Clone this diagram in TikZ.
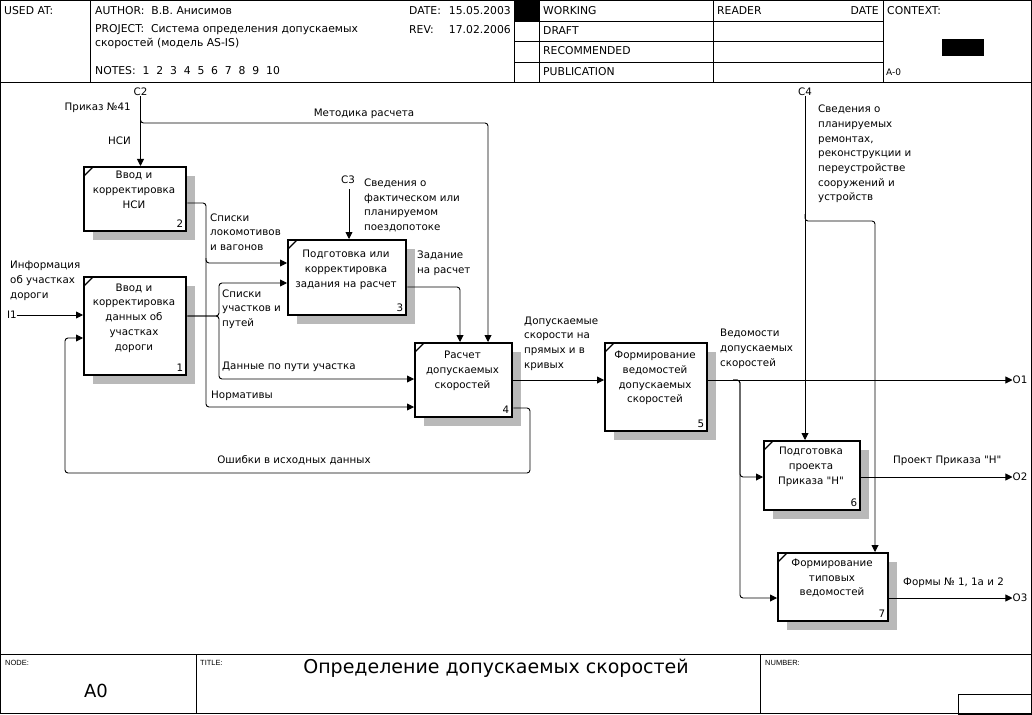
\documentclass[tikz,border=0pt]{standalone}
\usepackage{fontspec}
\setmainfont{DejaVu Sans}[Ligatures=TeXOff]
\newfontfamily\lib{Liberation Sans}
\usetikzlibrary{arrows.meta}
\tikzset{
  frm/.style={line width=0.8pt},
  box/.style={draw, line width=2.4pt, fill=white, inner sep=0pt},
  shd/.style={fill=gray!55},
  arr/.style={draw, line width=0.9pt, rounded corners=3pt, -{Triangle[length=7pt,width=7pt]}},
  txt/.style={font=\fontsize{10.3}{14.7}\selectfont, inner sep=0pt, align=left},
  ctxt/.style={font=\fontsize{10.3}{14.7}\selectfont, inner sep=0pt, align=center},
  hd/.style={font=\fontsize{10.8}{12}\selectfont, inner sep=0pt, anchor=west},
  ft/.style={font=\lib\fontsize{7.5}{9}\selectfont, inner sep=0pt, anchor=west},
}
\newcommand\ibox[8]{%
  \fill[shd] (#2+10,#3+10) rectangle (#4+10,#5+10);
  \node[box, anchor=north west, minimum width=#4-#2, minimum height=#5-#3] (#1) at (#2,#3) {};
  \draw[line width=1.2pt] (#2+1,#3+10) -- (#2+10,#3+1);
  \node[ctxt] (#1-t) at (#2/2+#4/2,#7) {#6};
  \node[ctxt, anchor=south east] (#1-n) at ([shift={(-4,-5)}]#1.south east) {#8};
}
\begin{document}
\begin{tikzpicture}[x=1pt,y=-1pt]
\useasboundingbox (0,0) rectangle (1032,714);
% frame
\draw[frm] (0.5,0.5) rectangle (1031.5,713.5);
\draw[frm] (0,82) -- (1032,82);
\draw[frm] (90,0) -- (90,82) (514,0) -- (514,82) (539,0) -- (539,82) (713,0) -- (713,82) (883,0) -- (883,82);
\draw[frm] (514,21) -- (883,21) (514,41) -- (883,41) (514,62) -- (883,62);
\fill (514,0) rectangle (539,21);
\fill (942,39) rectangle (984,56);
\node[hd] (usedat) at (4,11) {USED AT:};
\node[hd] (author) at (95,11) {AUTHOR:\ \ В.В. Анисимов};
\node[hd] (date) at (409,11) {DATE:};
\node[hd,anchor=east] (dateval) at (511,11) {15.05.2003};
\node[hd] (proj1) at (95,30) {PROJECT:\ \ Система определения допускаемых};
\node[hd] (proj2) at (95,44) {скоростей (модель AS-IS)};
\node[hd] (rev) at (409,30) {REV:};
\node[hd,anchor=east] (revval) at (511,30) {17.02.2006};
\node[hd] (notes) at (95,71) {NOTES:\ \ 1\ \ 2\ \ 3\ \ 4\ \ 5\ \ 6\ \ 7\ \ 8\ \ 9\ \ 10};
\node[hd] (working) at (543,11) {WORKING};
\node[hd] (draft) at (543,31) {DRAFT};
\node[hd] (recom) at (543,51) {RECOMMENDED};
\node[hd] (publ) at (543,72) {PUBLICATION};
\node[hd] (reader) at (717,11) {READER};
\node[hd,anchor=east] (rdate) at (879,11) {DATE};
\node[hd] (context) at (887,11) {CONTEXT:};
\node[hd,font=\fontsize{9}{11}\selectfont] (actx) at (886,72) {A-0};
% footer
\draw[frm] (0,654) -- (1032,654) (196,654) -- (196,714) (760,654) -- (760,714);
\draw[frm] (958,694) rectangle (1032,714);
\node[ft] (nodel) at (5,663) {NODE:};
\node[ft] (titlel) at (200,663) {TITLE:};
\node[ft] (numl) at (765,663) {NUMBER:};
\node[font=\fontsize{18}{22}\selectfont, inner sep=0pt] (a0) at (96,691) {A0};
\node[font=\fontsize{19}{22}\selectfont, inner sep=0pt] (title) at (496,668) {Определение допускаемых скоростей};
% boxes
\ibox{b1}{83}{276}{185}{374}{Ввод и\\корректировка\\данных об\\участках\\дороги}{318}{1}
\ibox{b2}{83}{166}{185}{230}{Ввод и\\корректировка\\НСИ}{190}{2}
\ibox{b3}{287}{239}{405}{314}{Подготовка или\\корректировка\\задания на расчет}{270}{3}
\ibox{b4}{414}{342}{511}{416}{Расчет\\допускаемых\\скоростей}{371}{4}
\ibox{b5}{604}{342}{706}{430}{Формирование\\ведомостей\\допускаемых\\скоростей}{378}{5}
\ibox{b6}{763}{440}{859}{509}{Подготовка\\проекта\\Приказа "Н"}{467}{6}
\ibox{b7}{777}{552}{887}{620}{Формирование\\типовых\\ведомостей}{578}{7}
% boundary labels
\node[ctxt] (C2) at (140.5,92) {C2};
\node[ctxt] (C3) at (348,180) {C3};
\node[ctxt] (C4) at (805,92) {C4};
\node[ctxt] (I1) at (12,315) {I1};
\node[ctxt] (O1) at (1020,380) {O1};
\node[ctxt] (O2) at (1020,477) {O2};
\node[ctxt] (O3) at (1020,598) {O3};
% arrows
\draw[arr] (C2.south) -- (C2.south |- b2.north);
\draw[arr] (140.5,117) |- (488,123) -- (488,123 |- b4.north);
\draw[arr] (349,189) -- (349,189 |- b3.north);
\draw[arr] (b3.east |- 0,287) -| (460,0 |- b4.north);
\draw[arr] (b2.east |- 0,203) -| (206,263) -- (b3.west |- 0,263);
\draw[arr] (206,258) |- (b4.west |- 0,407);
\draw[arr] (b1.east |- 0,316) -| (219,283) -- (b3.west |- 0,283);
\draw[arr] (b1.east |- 0,316) -| (219,379) -- (b4.west |- 0,379);
\draw[arr] (b4.east |- 0,380) -- (b5.west |- 0,380);
\draw[arr] (b4.east |- 0,408) -| (530,473) -| (65,338) -- (b1.west |- 0,338);
\draw[arr] (I1.east) -- (b1.west |- I1.east);
\draw[arr] (b5.east |- O1.west) -- (O1.west);
\draw[arr] (733,380) -| (740,477) -- (b6.west |- 0,477);
\draw[arr] (733,380) -| (740,598) -- (b7.west |- 0,598);
\draw[arr] (C4.south) -- (C4.south |- b6.north);
\draw[arr] (805,214) |- (875,221) -- (875,221 |- b7.north);
\draw[arr] (b6.east |- O2.west) -- (O2.west);
\draw[arr] (b7.east |- O3.west) -- (O3.west);
% arrow labels
\node[txt,anchor=east] (lprik) at (131,108) {Приказ №41};
\node[txt,anchor=east] (lnsi) at (131,141) {НСИ};
\node[txt] (lmet) at (364,114) {Методика расчета};
\node[txt,anchor=west] (lsved) at (364,205.5) {Сведения о\\фактическом или\\планируемом\\поездопотоке};
\node[txt,anchor=west] (lzad) at (417,263.5) {Задание\\на расчет};
\node[txt,anchor=west] (llok) at (210,232) {Списки\\локомотивов\\и вагонов};
\node[txt,anchor=west] (luch) at (222,309) {Списки\\участков и\\путей};
\node[txt,anchor=west] (ldan) at (222,367) {Данные по пути участка};
\node[txt,anchor=west] (lnorm) at (211,396) {Нормативы};
\node[txt] (losh) at (294,460) {Ошибки в исходных данных};
\node[txt,anchor=west] (linf) at (10,281) {Информация\\об участках\\дороги};
\node[txt,anchor=west] (ldop) at (524,343.5) {Допускаемые\\скорости на\\прямых и в\\кривых};
\node[txt,anchor=west] (lved) at (720,349) {Ведомости\\допускаемых\\скоростей};
\node[txt,anchor=west] (lrem) at (818,154) {Сведения о\\планируемых\\ремонтах,\\реконструкции и\\переустройстве\\сооружений и\\устройств};
\node[txt,anchor=west] (lproekt) at (893,461) {Проект Приказа "Н"};
\node[txt,anchor=west] (lform) at (903,583) {Формы № 1, 1а и 2};
\end{tikzpicture}
\end{document}
